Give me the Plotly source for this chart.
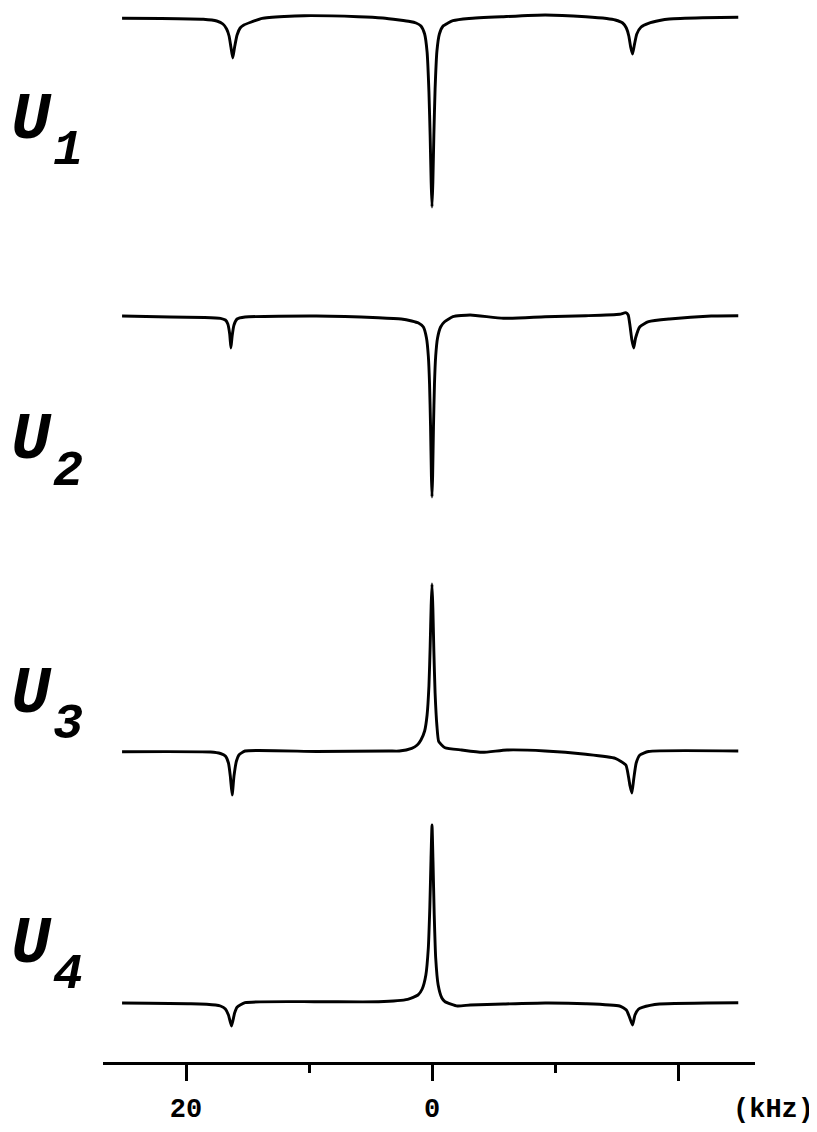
import plotly.graph_objects as go

# Frequency offsets (kHz) and intensities (arbitrary units, relative to each baseline)
u1_khz = [25.2, 22, 18.6, 17.5, 17.0, 16.7, 16.5, 16.35, 16.2, 16.05, 15.85, 15.6, 15.3, 14.8, 13.8, 12, 10.4, 6.0, 4, 2.66,
          1.8, 1.3, 0.9, 0.6, 0.4, 0.25, 0.15, 0.07, 0, -0.07, -0.15, -0.25, -0.4, -0.6, -0.9, -1.3, -1.7, -3, -5.8, -9.2,
          -12.5, -14.2, -14.9, -15.5, -15.8, -16.0, -16.15, -16.3, -16.45, -16.65, -17, -17.6, -18.5, -19.3, -22, -24.9]
u1_int = [-1.3, -1.5, -2.3, -4, -7, -12, -19, -30, -41, -30, -18, -11, -8, -5.5, -1.3, 0.5, 1.3, 0.3, -1, -3,
          -4.5, -6, -9, -17, -35, -75, -120, -165, -190, -165, -118, -72, -34, -17, -9, -6, -3.7, -1.5, 0.3, 2,
          0.3, -1.5, -3, -6, -11, -19, -30, -37, -28, -17, -10, -6.3, -3.5, -2, -0.8, -0.3]

u2_khz = [25.2, 21.3, 18.5, 17.2, 16.8, 16.6, 16.45, 16.35, 16.25, 16.1, 15.85, 15.2, 9.4, 4.35, 2.5, 1.65, 1.1, 0.7, 0.45,
          0.3, 0.2, 0.12, 0.05, 0, -0.05, -0.12, -0.2, -0.3, -0.45, -0.7, -1.0, -1.7, -3.1, -5.8, -9.2, -12.5, -15.25,
          -15.75, -15.95, -16.1, -16.25, -16.4, -16.55, -16.9, -17.6, -19.3, -22.7, -24.9]
u2_int = [0, -1, -1.5, -2.3, -4, -8, -18, -32, -20, -9, -3, -1, 0, -1.7, -3, -5, -7, -11, -22,
          -40, -68, -110, -160, -181, -160, -110, -68, -40, -22, -11, -6, -0.7, 1, -2.3, -0.7, 0.3, 1.7,
          3.3, 1, -10, -24, -32, -22, -10.7, -5.7, -3, 0, 0.3]

u3_khz = [25.2, 18.0, 17.2, 16.8, 16.55, 16.4, 16.25, 16.1, 15.9, 15.7, 15.2, 9.4, 3.5, 2.66, 1.65, 1.2, 0.9, 0.6, 0.4,
          0.25, 0.15, 0.07, 0, -0.07, -0.15, -0.25, -0.4, -0.55, -1.06, -2.4, -4.1, -6.1, -9.2, -12.5, -14.9, -15.76,
          -15.95, -16.1, -16.25, -16.4, -16.6, -16.9, -17.6, -24.9]
u3_int = [-0.7, -1, -2.5, -5, -12, -25, -44, -25, -10, -4, 0, -0.5, 0, 0, 2.7, 6, 11, 20, 36,
          65, 105, 145, 167, 143, 100, 58, 25, 9.3, 3.3, 1, -1.3, 1, 0, -3.3, -7.3, -14,
          -24, -35, -42, -28, -12, -4, -0.5, 0]

u4_khz = [25.2, 19.6, 17.6, 17.2, 16.8, 16.55, 16.3, 16.05, 15.85, 15.2, 9.4, 4.35, 1.98, 1.14, 0.8, 0.5, 0.3, 0.18,
          0.08, 0, -0.08, -0.18, -0.3, -0.5, -0.8, -1.06, -2.07, -3.1, -5.8, -9.2, -12.5, -15.25, -15.8, -16.05, -16.3,
          -16.5, -16.8, -17.1, -18.5, -24.9]
u4_int = [0, -0.7, -2, -3, -6, -12, -23, -10, -4.3, 0.3, 1.3, 1.3, 3.7, 8, 14, 28, 55, 95,
          145, 178, 142, 88, 45, 18, 5, 1.3, -3, -2, -1, 0, -0.7, -3, -7, -14, -22,
          -12, -6, -4.3, -1, 0.3]

spectra = [("1", u1_khz, u1_int), ("2", u2_khz, u2_int), ("3", u3_khz, u3_int), ("4", u4_khz, u4_int)]

# Layout constants. The page body has an 8 px margin, so the figure is drawn 8 px smaller.
BODY = 8
FIG_W, FIG_H = 817 - BODY, 1132 - BODY
AXIS_PAGE_Y = 1062              # page y of the x axis line
PLOT_TOP_PAGE = BODY            # page y of plot-area top
PLOT_H = AXIS_PAGE_Y - PLOT_TOP_PAGE
PLOT_L_PAGE, PLOT_R_PAGE = 103, 755
PLOT_W = PLOT_R_PAGE - PLOT_L_PAGE

baseline_page_y = [17, 316, 751, 1003]
label_page_y = [121, 441, 694, 944]


def px(page_x):
    return (page_x - PLOT_L_PAGE) / PLOT_W


def py(page_y):
    return (AXIS_PAGE_Y - page_y) / PLOT_H


fig = go.Figure()
for (name, xs, ys), bp in zip(spectra, baseline_page_y):
    base = AXIS_PAGE_Y - bp
    fig.add_trace(go.Scatter(
        x=xs, y=[base + v for v in ys], mode="lines",
        line=dict(color="black", width=2.9, shape="spline", smoothing=0.5),
        name="U" + name, showlegend=False,
    ))

font_fam = "Courier New, Liberation Mono, monospace"
for (name, _, _), ly in zip(spectra, label_page_y):
    fig.add_annotation(x=px(31), y=py(ly), xref="paper", yref="paper",
                       text="<b><i>U</i></b>", showarrow=False,
                       font=dict(family=font_fam, size=66, color="black"), xanchor="center", yanchor="middle")
    fig.add_annotation(x=px(68), y=py(ly + 30), xref="paper", yref="paper",
                       text="<b><i>" + name + "</i></b>", showarrow=False,
                       font=dict(family=font_fam, size=50, color="black"), xanchor="center", yanchor="middle")

fig.add_annotation(x=px(773), y=py(1110), xref="paper", yref="paper",
                   text="<b>(kHz)</b>", showarrow=False,
                   font=dict(family=font_fam, size=27, color="black"), xanchor="center", yanchor="middle")

fig.update_layout(
    width=FIG_W, height=FIG_H,
    margin=dict(l=PLOT_L_PAGE - BODY, r=FIG_W - (PLOT_R_PAGE - BODY), t=0, b=FIG_H - (AXIS_PAGE_Y - BODY)),
    paper_bgcolor="white", plot_bgcolor="white",
    xaxis=dict(
        range=[26.75, -26.26], showgrid=False, zeroline=False, automargin=False,
        showline=True, linecolor="black", linewidth=2.5,
        ticks="outside", ticklen=16, tickwidth=2.5, tickcolor="black",
        tickvals=[20, 0, -20], ticktext=["20", "0", ""],
        tickfont=dict(family=font_fam, size=27, color="black", weight="bold"),
        ticklabelstandoff=4,
        minor=dict(tickvals=[10, -10], ticks="outside", ticklen=8, tickwidth=2.5, tickcolor="black"),
    ),
    yaxis=dict(range=[0, PLOT_H], visible=False, showgrid=False, zeroline=False, automargin=False),
)

fig.write_html("out.html")
